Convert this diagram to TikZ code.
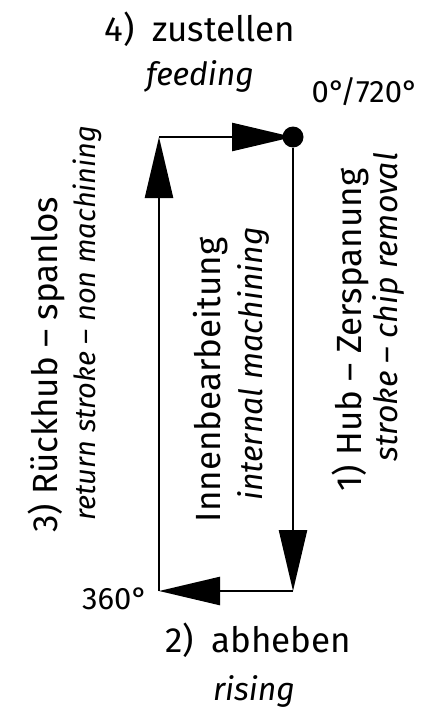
\documentclass[tikz,border=0pt]{standalone}
\usepackage{fontspec}
\setmainfont{Fira Sans}
\usetikzlibrary{arrows.meta}

\begin{document}
\begin{tikzpicture}[x=1pt, y=-1pt,
  main/.style={inner sep=0pt, anchor=base, font=\fontsize{35}{40}\selectfont},
  sub/.style={inner sep=0pt, anchor=base, font=\fontsize{32}{36}\selectfont\itshape},
  deg/.style={inner sep=0pt, anchor=base, font=\fontsize{31}{34}\selectfont},
  flow/.style={line width=2.5pt, -{Triangle[length=61pt, width=28pt]}}]
  \useasboundingbox (0,0) rectangle (423,709);

  % corners of the cycle
  \node[circle, fill, inner sep=0pt, minimum size=21pt] (start) at (293,137) {};
  \coordinate (br) at (293,591);
  \coordinate (bl) at (159,591);
  \coordinate (tl) at (159,137);

  % cycle
  \draw[flow] (start) -- (br);
  \draw[flow] (br) -- (bl);
  \draw[flow] (bl) -- (tl);
  \draw[flow] (tl) -- (start.center);

  % angles
  \node[deg] (zero) at (365,102) {0°/720°};
  \node[deg] (half) at (115,609) {360°};

  % steps
  \node[main] (zustellen) at (200,42) {4)\enspace zustellen};
  \node[sub] (feeding) at (200,85) {feeding};
  \node[main] (abheben) at (258,652) {2)\enspace abheben};
  \node[sub] (rising) at (254,700) {rising};
  \node[main, rotate=90] (hub) at (361,330) {1) Hub – Zerspanung};
  \node[sub, rotate=90] (stroke) at (397,307) {stroke – chip removal};
  \node[main, rotate=90] (rueckhub) at (57,365) {3) Rückhub – spanlos};
  \node[sub, rotate=90, font=\fontsize{29}{33}\selectfont\itshape] (return) at (95,323) {return stroke – non machining};

  % middle
  \node[main, rotate=90] (inner) at (220,380) {Innenbearbeitung};
  \node[sub, rotate=90] (machining) at (262,364) {internal machining};
\end{tikzpicture}
\end{document}
